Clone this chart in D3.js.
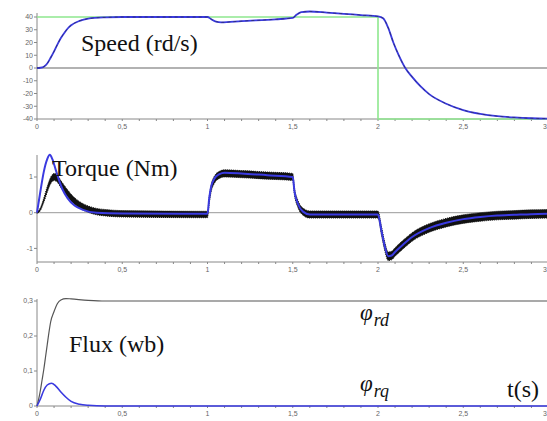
<!DOCTYPE html>
<html>
<head>
<meta charset="utf-8">
<script src="https://cdn.jsdelivr.net/npm/d3@7"></script>
<style>
body { margin:0; background:#fff; }
svg { display:block; }
</style>
</head>
<body>
<svg width="547" height="421"></svg>
<script>
// ---- data ----
var xTicks = [0, 0.5, 1, 1.5, 2, 2.5, 3]
var xTickLabels = ["0", "0,5", "1", "1,5", "2", "2,5", "3"]

// speed (rd/s)
var refT = [0, 2, 2, 3]
var refV = [40, 40, -40, -40]
var speedT = [0, 0.02, 0.04, 0.06, 0.08, 0.1, 0.12, 0.14, 0.16, 0.18, 0.2, 0.25, 0.3, 0.4, 0.5, 1.0, 1.02, 1.05, 1.08, 1.2, 1.4, 1.5, 1.52, 1.55, 1.6, 1.7, 1.8, 1.9, 2.0, 2.03, 2.06, 2.09, 2.12, 2.16, 2.2, 2.25, 2.3, 2.4, 2.5, 2.6, 2.7, 2.8, 2.9, 3.0]
var speedV = [0, 0.2, 1, 3.5, 8, 13, 18.5, 23.5, 27.5, 31, 33.5, 37, 38.7, 39.7, 40, 40, 38.5, 36.3, 35.8, 36.8, 38.2, 39.3, 41.5, 43.8, 44.3, 43.5, 42.5, 41.5, 40.5, 39, 31.5, 20, 10.5, 0, -7, -14.5, -20.5, -28, -33, -36, -37.8, -38.8, -39.4, -39.7]
var speedTicks = [40, 30, 20, 10, 0, -10, -20, -30, -40]

// torque (Nm)
var tqRefT = [0, 0.02, 0.04, 0.06, 0.075, 0.09, 0.11, 0.13, 0.15, 0.18, 0.22, 0.27, 0.35, 0.5, 1.0, 1.01, 1.02, 1.04, 1.07, 1.1, 1.2, 1.35, 1.5, 1.51, 1.53, 1.56, 1.6, 1.8, 2.0, 2.02, 2.04, 2.06, 2.08, 2.1, 2.15, 2.2, 2.3, 2.4, 2.5, 2.6, 2.7, 2.8, 2.9, 3.0]
var tqRefV = [0, 0.6, 1.15, 1.5, 1.62, 1.5, 1.2, 0.9, 0.65, 0.4, 0.2, 0.08, 0.0, -0.02, -0.03, 0.4, 0.7, 0.95, 1.08, 1.12, 1.1, 1.05, 1.0, 0.6, 0.25, 0.03, -0.05, -0.05, -0.05, -0.5, -0.95, -1.22, -1.2, -1.1, -0.88, -0.68, -0.43, -0.28, -0.18, -0.12, -0.08, -0.06, -0.04, -0.03]
var tqT = [0, 0.02, 0.04, 0.06, 0.08, 0.1, 0.12, 0.14, 0.17, 0.2, 0.25, 0.3, 0.35, 0.4, 0.5, 1.0, 1.01, 1.02, 1.04, 1.07, 1.1, 1.2, 1.35, 1.5, 1.51, 1.53, 1.56, 1.6, 1.8, 2.0, 2.02, 2.04, 2.06, 2.08, 2.1, 2.15, 2.2, 2.3, 2.4, 2.5, 2.6, 2.7, 2.8, 2.9, 3.0]
var tqV = [0, 0.1, 0.35, 0.65, 0.9, 1.0, 0.95, 0.8, 0.6, 0.42, 0.22, 0.1, 0.03, 0.0, -0.03, -0.05, 0.35, 0.65, 0.92, 1.06, 1.1, 1.08, 1.04, 1.0, 0.6, 0.25, 0.03, -0.05, -0.05, -0.05, -0.5, -0.95, -1.22, -1.2, -1.1, -0.88, -0.68, -0.43, -0.28, -0.18, -0.12, -0.08, -0.06, -0.04, -0.03]
var tqNoise = [0.02, 0.04, 0.06, 0.08, 0.09, 0.1, 0.1, 0.1, 0.1, 0.1, 0.09, 0.09, 0.09, 0.09, 0.09, 0.09, 0.1, 0.1, 0.1, 0.1, 0.1, 0.1, 0.1, 0.1, 0.1, 0.1, 0.1, 0.1, 0.1, 0.1, 0.12, 0.12, 0.12, 0.12, 0.12, 0.12, 0.12, 0.12, 0.12, 0.12, 0.12, 0.12, 0.12, 0.12, 0.12]
var torqueTicks = [1, 0, -1]

// flux (wb)
var frdT = [0, 0.01, 0.02, 0.03, 0.04, 0.05, 0.06, 0.07, 0.08, 0.1, 0.12, 0.14, 0.17, 0.2, 0.3, 0.4, 3.0]
var frdV = [0, 0.02, 0.045, 0.075, 0.105, 0.14, 0.175, 0.21, 0.24, 0.27, 0.293, 0.303, 0.307, 0.306, 0.302, 0.3, 0.3]
var frqT = [0, 0.02, 0.04, 0.06, 0.085, 0.11, 0.14, 0.17, 0.2, 0.25, 0.3, 0.4, 3.0]
var frqV = [0, 0.02, 0.045, 0.06, 0.065, 0.057, 0.04, 0.025, 0.013, 0.005, 0.002, 0, 0]
var fluxTicks = [0.3, 0.2, 0.1, 0]
var fluxTickLabels = ["0,3", "0,2", "0,1", "0"]

var svg = d3.select("svg")
var blue = "#3a3ae0"
var serif = "'Liberation Serif', 'DejaVu Serif', serif"
var sans = "'Liberation Sans', 'DejaVu Sans', sans-serif"

var x = d3.scaleLinear().domain([0, 3]).range([37, 548.5])

function pts(ts, vs) { return ts.map(function(t, i) { return [t, vs[i]] }) }

var label = function(tx, ty, str)
{
    return svg.append("text").attr("x", tx).attr("y", ty)
        .style("font-family", serif).style("font-size", "24px").style("fill", "#111")
        .text(str)
}

var drawXAxis = function(yPix)
{
    var g = svg.append("g").attr("transform", "translate(0," + yPix + ")")
    g.append("line").attr("x1", 37).attr("x2", 547).attr("stroke", "#888").attr("stroke-width", 1)
    g.selectAll(".minor").data(d3.range(0, 31).map(function(i) { return i / 10 }))
        .enter().append("line")
        .attr("x1", function(d) { return x(d) }).attr("x2", function(d) { return x(d) })
        .attr("y1", 0).attr("y2", 2).attr("stroke", "#888")
    g.selectAll(".lab").data(xTicks).enter().append("text")
        .attr("x", function(d, i) { return i == xTicks.length - 1 ? 547 : x(d) }).attr("y", 10)
        .attr("text-anchor", function(d, i) { return i == xTicks.length - 1 ? "end" : "middle" })
        .style("font-family", sans).style("font-size", "7px").style("fill", "#666")
        .text(function(d, i) { return xTickLabels[i] })
}

var drawYAxis = function(y, ticks, labels, top, bottom)
{
    var g = svg.append("g")
    g.append("line").attr("x1", 37).attr("x2", 37).attr("y1", top).attr("y2", bottom).attr("stroke", "#888")
    g.selectAll("line.t").data(ticks).enter().append("line")
        .attr("x1", 34).attr("x2", 37)
        .attr("y1", function(d) { return y(d) }).attr("y2", function(d) { return y(d) })
        .attr("stroke", "#888")
    g.selectAll("text").data(ticks).enter().append("text")
        .attr("x", 33).attr("y", function(d) { return y(d) + 2.4 })
        .attr("text-anchor", "end")
        .style("font-family", sans).style("font-size", "7px").style("fill", "#666")
        .text(function(d, i) { return labels ? labels[i] : d })
}

// ---- speed ----
var y1 = d3.scaleLinear().domain([-40, 40]).range([119, 17])
drawYAxis(y1, speedTicks, null, 13, 119)
drawXAxis(119)
svg.append("line").attr("x1", 37).attr("x2", 547).attr("y1", y1(0)).attr("y2", y1(0))
    .attr("stroke", "#999").attr("stroke-width", 1.5)
var line1 = d3.line().x(function(d) { return x(d[0]) }).y(function(d) { return y1(d[1]) })
svg.append("path").attr("d", line1(pts(refT, refV))).attr("fill", "none")
    .attr("stroke", "#8ee88e").attr("stroke-width", 1.6)
var sm1 = d3.line().curve(d3.curveMonotoneX).x(function(d) { return x(d[0]) }).y(function(d) { return y1(d[1]) })
svg.append("path").attr("d", sm1(pts(speedT, speedV))).attr("fill", "none")
    .attr("stroke", blue).attr("stroke-width", 1.8)
svg.append("path").attr("d", sm1(pts(speedT, speedV))).attr("fill", "none")
    .attr("stroke", "#222").attr("stroke-width", 0.8).attr("stroke-dasharray", "3,3").attr("opacity", 0.6)
label(81, 51, "Speed (rd/s)")

// ---- torque ----
var y2 = d3.scaleLinear().domain([-1, 1]).range([248.4, 177])
drawYAxis(y2, torqueTicks, null, 155, 262)
drawXAxis(262)
svg.append("line").attr("x1", 37).attr("x2", 547).attr("y1", y2(0)).attr("y2", y2(0))
    .attr("stroke", "#999").attr("stroke-width", 1)
var band = d3.area().curve(d3.curveMonotoneX)
    .x(function(d) { return x(d[0]) })
    .y0(function(d) { return y2(d[1] - d[2]) })
    .y1(function(d) { return y2(d[1] + d[2]) })
svg.append("path").attr("d", band(tqT.map(function(t, i) { return [t, tqV[i], tqNoise[i]] })))
    .attr("fill", "#111").attr("stroke", "#111").attr("stroke-width", 1).attr("stroke-dasharray", "1,1")
var sm2 = d3.line().curve(d3.curveMonotoneX).x(function(d) { return x(d[0]) }).y(function(d) { return y2(d[1]) })
svg.append("path").attr("d", sm2(pts(tqRefT, tqRefV))).attr("fill", "none")
    .attr("stroke", blue).attr("stroke-width", 2)
label(52, 176, "Torque (Nm)")

// ---- flux ----
var y3 = d3.scaleLinear().domain([0, 0.3]).range([406, 301])
drawYAxis(y3, fluxTicks, fluxTickLabels, 299, 406)
drawXAxis(406)
var sm3 = d3.line().curve(d3.curveMonotoneX).x(function(d) { return x(d[0]) }).y(function(d) { return y3(d[1]) })
svg.append("path").attr("d", sm3(pts(frdT, frdV))).attr("fill", "none")
    .attr("stroke", "#555").attr("stroke-width", 1.2)
svg.append("path").attr("d", sm3(pts(frqT, frqV))).attr("fill", "none")
    .attr("stroke", blue).attr("stroke-width", 1.6)
label(69, 352, "Flux (wb)")

var phi1 = label(360, 320, "").style("font-style", "italic")
phi1.append("tspan").style("font-size", "23px").text("φ")
phi1.append("tspan").attr("dy", 6).attr("dx", 1).style("font-size", "18px").text("rd")
var phi2 = label(360, 391, "").style("font-style", "italic")
phi2.append("tspan").style("font-size", "23px").text("φ")
phi2.append("tspan").attr("dy", 6).attr("dx", 1).style("font-size", "18px").text("rq")
label(507, 397, "t(s)")
</script>
</body>
</html>
